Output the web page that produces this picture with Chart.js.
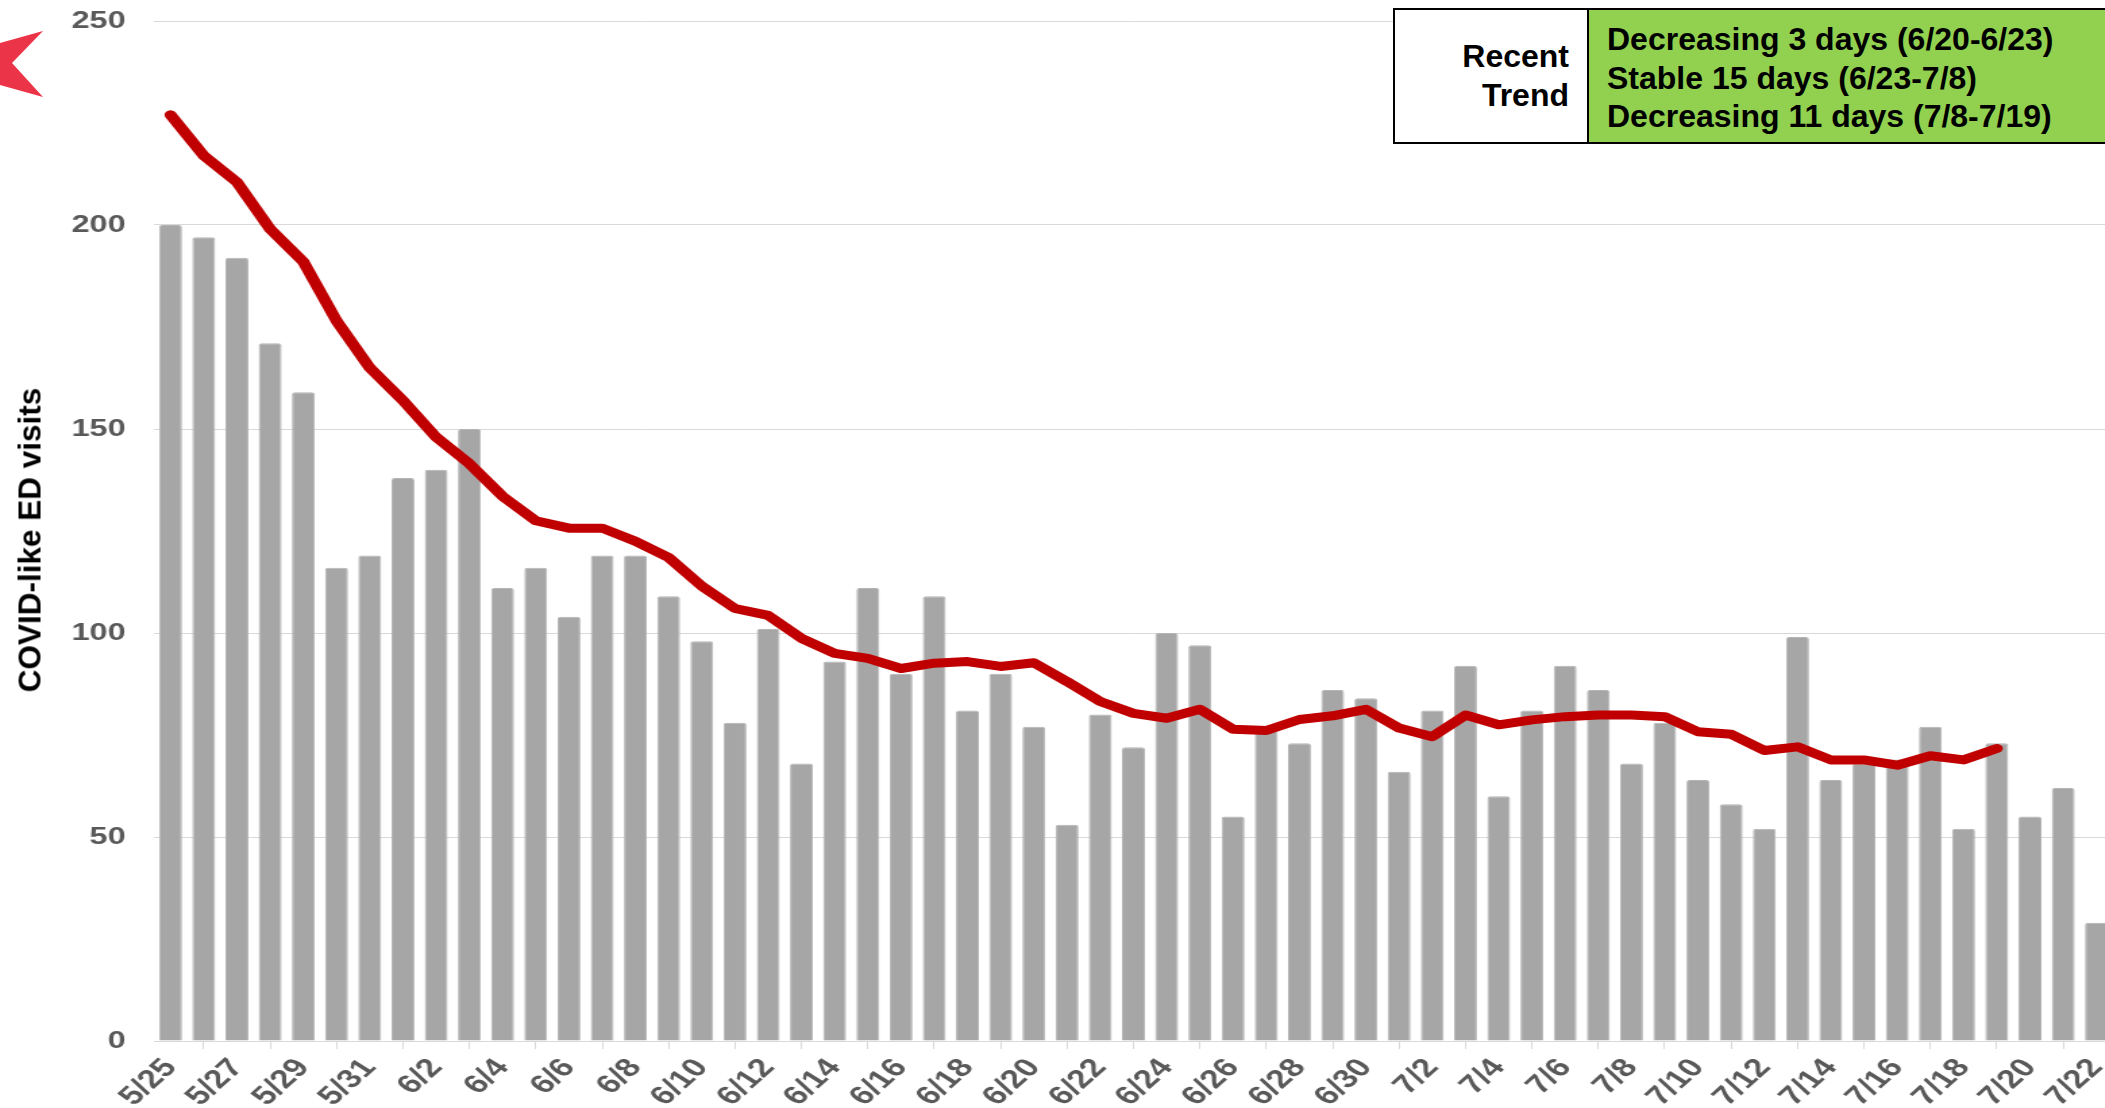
<!DOCTYPE html>
<html>
<head>
<meta charset="utf-8">
<script src="https://cdn.jsdelivr.net/npm/chart.js@4.4.1/dist/chart.umd.min.js"></script>
<style>
  html, body { margin: 0; padding: 0; background: #fff; overflow: hidden; }
  body { width: 2105px; height: 1108px; position: relative; font-family: 'Liberation Sans', Arial, sans-serif; }
  #c { position: absolute; left: 0; top: 0; }
  #ytitle {
    position: absolute; left: 30px; top: 540px;
    transform: translate(-50%, -50%) rotate(-90deg);
    font-weight: bold; font-size: 31.5px; color: #000; white-space: nowrap;
  }
  #trend {
    position: absolute; left: 1393px; top: 8px; width: 730px; height: 136px;
    box-sizing: border-box; border: 2px solid #000; display: flex; background: #92d050;
    font-weight: bold; font-size: 32px; color: #000;
  }
  #trend .lbl {
    width: 194px; box-sizing: border-box; background: #fff; border-right: 2px solid #000;
    display: flex; flex-direction: column; justify-content: center; align-items: flex-end;
    padding-right: 18px; line-height: 39px;
  }
  #trend .txt { padding-left: 18px; padding-top: 10px; line-height: 38.5px; white-space: nowrap; }
  #arrow { position: absolute; left: 0; top: 0; }
</style>
</head>
<body>
<svg id="arrow" width="50" height="110"><polygon points="43,31 0,43 0,85 43,97 12,63" fill="#ec3448"/></svg>
<!-- chart picture is stretched sideways like the pasted image in the slide -->
<canvas id="c" width="1565" height="1108" style="width:2113px;height:1108px"></canvas>
<div id="ytitle">COVID-like ED visits</div>
<div id="trend">
  <div class="lbl"><div>Recent</div><div>Trend</div></div>
  <div class="txt">
    <div>Decreasing 3 days (6/20-6/23)</div>
    <div>Stable 15 days (6/23-7/8)</div>
    <div>Decreasing 11 days (7/8-7/19)</div>
  </div>
</div>
<script>
// days shown on the x axis
var days = ["5/25","5/26","5/27","5/28","5/29","5/30","5/31",
  "6/1","6/2","6/3","6/4","6/5","6/6","6/7","6/8","6/9","6/10","6/11","6/12","6/13","6/14","6/15",
  "6/16","6/17","6/18","6/19","6/20","6/21","6/22","6/23","6/24","6/25","6/26","6/27","6/28","6/29","6/30",
  "7/1","7/2","7/3","7/4","7/5","7/6","7/7","7/8","7/9","7/10","7/11","7/12","7/13","7/14","7/15",
  "7/16","7/17","7/18","7/19","7/20","7/21","7/22"];

// daily COVID-like ED visits (grey bars)
var visits = [200,197,192,171,159,116,119,138,140,150,111,116,104,119,119,109,98,78,101,68,
  93,111,90,109,81,90,77,53,80,72,100,97,55,76,73,86,84,66,81,92,
  60,81,92,86,68,78,64,58,52,99,64,68,69,77,52,73,55,62,29];

// 7 day average (red line), stops at 7/19
var avg7 = [227,217,210.5,199,191,176.5,165,157,148,141.5,133.5,127.5,125.7,125.7,122.5,118.5,
  111.5,106,104.3,98.7,95,93.8,91.3,92.6,93,91.8,92.7,88.1,83.2,80.3,79.1,81.3,76.4,76.1,78.8,79.7,81.3,
  76.7,74.6,79.9,77.5,78.7,79.5,79.9,79.9,79.5,75.8,75.2,71.2,72.1,68.9,68.9,67.6,69.9,68.9,71.7,
  null,null,null];

var yMax = 250;
var yStep = 50;

Chart.defaults.font.family = "'Liberation Sans', Arial, sans-serif";

var ctx = document.getElementById("c").getContext("2d");
var chart = new Chart(ctx, {
  type: 'bar',
  data: {
    labels: days,
    datasets: [
      {
        type: 'line',
        label: '7 day average',
        data: avg7,
        borderColor: '#c00000',
        borderWidth: 9,
        pointRadius: 0,
        tension: 0,
        borderJoinStyle: 'round',
        borderCapStyle: 'round',
        spanGaps: false,
        order: 0
      },
      {
        label: 'Visits',
        data: visits,
        backgroundColor: '#a6a6a6',
        borderColor: '#b4b4b4',
        borderWidth: 1,
        borderRadius: 2,
        borderSkipped: 'bottom',
        barPercentage: 0.69,
        categoryPercentage: 1.0,
        order: 1
      }
    ]
  },
  options: {
    responsive: false,
    animation: false,
    devicePixelRatio: 1,
    layout: { padding: { top: 21, left: 0, right: 0, bottom: 0 } },
    plugins: { legend: { display: false }, tooltip: { enabled: false } },
    scales: {
      x: {
        offset: true,
        grid: { offset: true, drawOnChartArea: false, drawTicks: true, tickLength: 8, color: '#d9d9d9' },
        border: { display: true, color: '#d9d9d9' },
        ticks: {
          autoSkip: false,
          minRotation: 50,
          maxRotation: 50,
          padding: 4,
          color: '#595959',
          font: { size: 26, weight: 'bold' },
          callback: function (val, i) { return i % 2 === 0 ? this.getLabelForValue(val) : null; }
        },
        afterFit: function (s) { s.height = 67; s.paddingLeft = 0; s.paddingRight = 0; }
      },
      y: {
        min: 0,
        max: yMax,
        grid: { color: '#d9d9d9', drawTicks: false },
        border: { display: false },
        ticks: { stepSize: yStep, padding: 21, color: '#595959', font: { size: 24, weight: 'bold' } },
        afterFit: function (s) { s.width = 114; s.paddingTop = 0; s.paddingBottom = 0; }
      }
    }
  }
});
</script>
</body>
</html>
